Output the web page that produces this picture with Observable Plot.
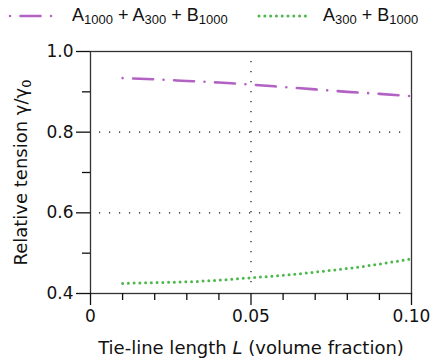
<!DOCTYPE html>
<html><head><meta charset="utf-8">
<script src="https://cdn.jsdelivr.net/npm/d3@7"></script>
<script src="https://cdn.jsdelivr.net/npm/@observablehq/plot@0.6"></script>
<style>
body{margin:0;background:#fff;font-family:"Liberation Sans",Arial,sans-serif;color:#111;}
#legend{height:34px;position:relative;width:434px;font-size:18px;}
#legend .sw{position:absolute;top:6px;}
#legend .lab{position:absolute;top:5px;white-space:nowrap;line-height:20px;}
#legend sub{font-size:13px;vertical-align:-3px;line-height:0;}
svg{display:block;}
</style></head><body>
<div id="legend"></div>
<div id="chart"></div>
<script>
// ---- data ----
const tieLine = [0.01, 0.02, 0.03, 0.04, 0.05, 0.06, 0.07, 0.08, 0.09, 0.10];
const tensionA = [0.934, 0.931, 0.927, 0.923, 0.918, 0.912, 0.906, 0.900, 0.895, 0.889]; // A1000 + A300 + B1000
const tensionB = [0.425, 0.427, 0.429, 0.433, 0.439, 0.445, 0.453, 0.462, 0.473, 0.486]; // A300 + B1000
const seriesNames = ["A1000 + A300 + B1000", "A300 + B1000"];
const seriesColors = ["#b262c2", "#4cb84c"];
const xTicks = [0, 0.05, 0.10];
const xTickLabels = ["0", "0.05", "0.10"];
const xMinorTicks = [0.01, 0.02, 0.03, 0.04, 0.06, 0.07, 0.08, 0.09];
const yTicks = [0.4, 0.6, 0.8, 1.0];
const yTickLabels = ["0.4", "0.6", "0.8", "1.0"];
const yMinorTicks = [0.5, 0.7, 0.9];
const yGrid = [0.6, 0.8];
const xGrid = [0.05];
const xLabel = "Tie-line length L (volume fraction)";
const yLabel = "Relative tension γ/γ0";

const rowsA = tieLine.map((L, i) => ({L, t: tensionA[i]}));
const rowsB = tieLine.map((L, i) => ({L, t: tensionB[i]}));

// ---- legend ----
const subify = s => s.replace(/([A-Z])(\d+)/g, "$1<sub>$2</sub>");
const leg = document.getElementById("legend");
leg.innerHTML = `
<svg class="sw" style="left:4px" width="54" height="20"><line x1="6" y1="10" x2="50" y2="10" stroke="${seriesColors[0]}" stroke-width="2.5" stroke-linecap="round" stroke-dasharray="0 10.5 20 10.5 0 20"/></svg>
<span class="lab" style="left:72px">${subify(seriesNames[0])}</span>
<svg class="sw" style="left:254px" width="56" height="20"><line x1="5" y1="10" x2="52" y2="10" stroke="${seriesColors[1]}" stroke-width="3" stroke-linecap="round" stroke-dasharray="0 5.8"/></svg>
<span class="lab" style="left:323px">${subify(seriesNames[1])}</span>`;

// ---- chart ----
const FONT = "DejaVu Sans, Liberation Sans, sans-serif";
const chart = Plot.plot({
  width: 434, height: 325,
  marginTop: 17, marginRight: 23, marginBottom: 66, marginLeft: 90,
  style: {fontFamily: FONT, fontSize: "17px", color: "#111", background: "white"},
  x: {domain: [0, 0.1]},
  y: {domain: [0.4, 1.0]},
  marks: [
    Plot.ruleY(yGrid, {stroke: "#111", strokeWidth: 1.2, strokeDasharray: "1.2 8.8", insetLeft: 9, insetRight: 9}),
    Plot.ruleX(xGrid, {stroke: "#111", strokeWidth: 1.2, strokeDasharray: "1.2 8.8", insetTop: 10, insetBottom: 9}),
    Plot.frame({stroke: "#333", strokeWidth: 1.3}),
    Plot.line(rowsA, {x: "L", y: "t", stroke: seriesColors[0], strokeWidth: 2.6, strokeLinecap: "round", strokeDasharray: "0 10.5 20 10.5", curve: "natural"}),
    Plot.line(rowsB, {x: "L", y: "t", stroke: seriesColors[1], strokeWidth: 3, strokeLinecap: "round", strokeDasharray: "0 5.75", curve: "natural"}),
    Plot.axisX(xTicks, {tickSize: 12, tickPadding: 4, strokeWidth: 1.3, fontSize: 17, tickFormat: (d, i) => xTickLabels[i],
      label: xLabel, labelArrow: "none", labelAnchor: "center", labelOffset: 60}),
    Plot.axisX(xMinorTicks, {tickSize: 7, strokeWidth: 1.3, tickFormat: () => "", label: null}),
    Plot.axisY(yTicks, {tickSize: 14, tickPadding: 3, strokeWidth: 1.3, fontSize: 17, tickFormat: (d, i) => yTickLabels[i],
      label: yLabel, labelArrow: "none", labelAnchor: "center", labelOffset: 76}),
    Plot.axisY(yMinorTicks, {tickSize: 8, strokeWidth: 1.3, tickFormat: () => "", label: null})
  ]
});
document.getElementById("chart").append(chart);

// rich text in axis labels
d3.select(chart).selectAll("text").each(function() {
  const el = d3.select(this);
  const txt = el.text().replace(/[\s↑→←↓]+$/, "").replace(/^[↑→←↓\s]+/, "");
  if (txt === yLabel) {
    el.selectAll("*").remove(); el.text(null);
    el.attr("font-size", 18);
    el.append("tspan").text("Relative tension γ/γ");
    el.append("tspan").attr("font-size", "13px").attr("dy", "0.3em").text("0");
  } else if (txt === xLabel) {
    el.selectAll("*").remove(); el.text(null);
    el.attr("font-size", 18);
    el.append("tspan").text("Tie-line length ");
    el.append("tspan").attr("font-style", "italic").text("L");
    el.append("tspan").text(" (volume fraction)");
  }
});
</script>
</body></html>
